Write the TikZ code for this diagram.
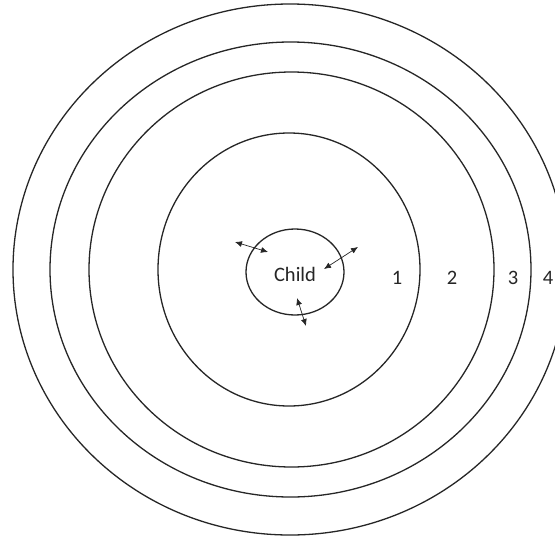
\documentclass[tikz,border=0pt]{standalone}
\usepackage{fontspec}
\setmainfont{Carlito}
\usetikzlibrary{arrows.meta,shapes.geometric}
\tikzset{
  ring/.style={draw=black!85, line width=1.3pt},
  lbl/.style={font=\fontsize{20.5}{24}\selectfont, text=black!85, inner sep=0pt},
  link/.style={{Latex[length=7pt,width=6pt]}-{Latex[length=7pt,width=6pt]}, line width=0.7pt, draw=black!85}
}
\begin{document}
\begin{tikzpicture}[x=1pt,y=-1pt]
\useasboundingbox (0,0) rectangle (555,539);
\clip (0,0) rectangle (555,539);
\fill[white] (0,0) rectangle (555,539);
% rings
\draw[ring] (290,269.5) ellipse [x radius=277, y radius=265.5];
\draw[ring] (290.5,269.5) ellipse [x radius=240.5, y radius=227.5];
\draw[ring] (291.5,269.5) ellipse [x radius=202.5, y radius=197.5];
\draw[ring] (289,269.5) ellipse [x radius=131, y radius=136.5];
% child
\node[ellipse, ring, minimum width=98pt, minimum height=86pt, inner sep=0pt] (child) at (295,272) {};
\node[lbl] (childlbl) at (295,274) {Child};
% labels
\node[lbl] (l1) at (397,278) {1};
\node[lbl] (l2) at (452,278) {2};
\node[lbl] (l3) at (513,278) {3};
\node[lbl] (l4) at (548,278) {4};
% arrows
\coordinate (a1s) at (235,242);
\coordinate (a1e) at (268,252);
\coordinate (a2s) at (358,247);
\coordinate (a2e) at (324,269);
\coordinate (a3s) at (297,298);
\coordinate (a3e) at (306,326);
\draw[link] (a1s) -- (a1e);
\draw[link] (a2s) -- (a2e);
\draw[link] (a3s) -- (a3e);
\end{tikzpicture}
\end{document}
